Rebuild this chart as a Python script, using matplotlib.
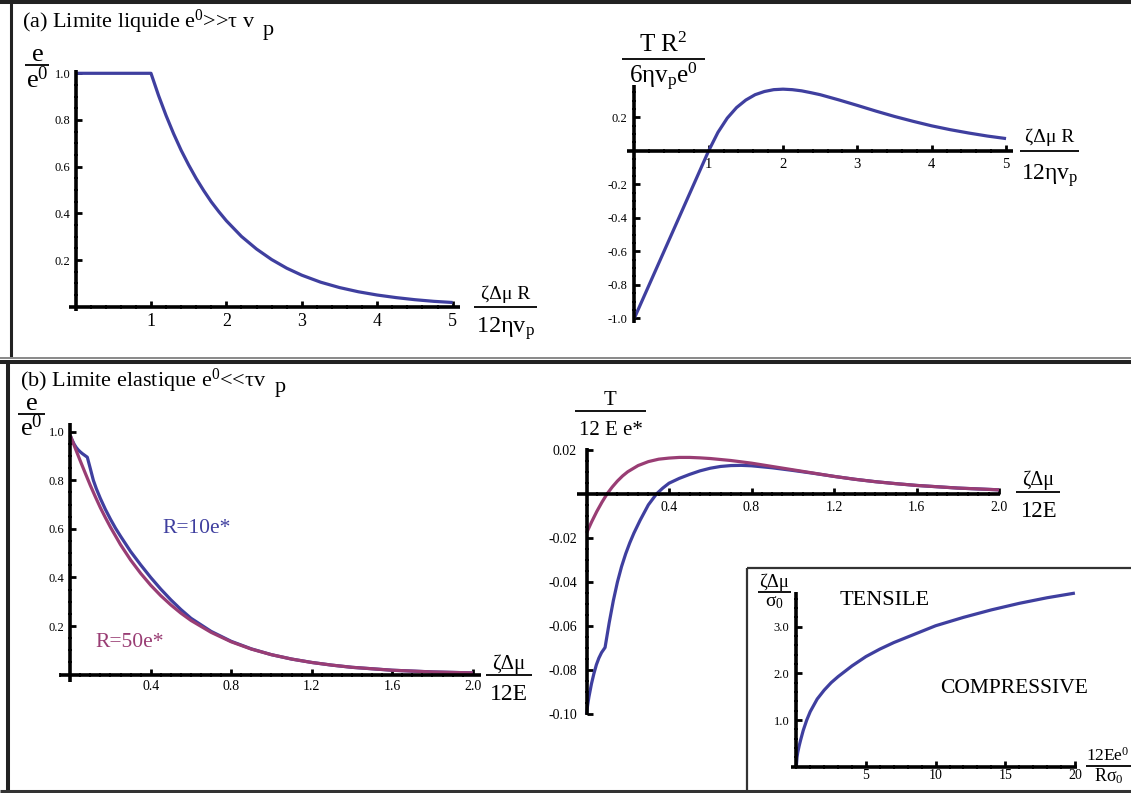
import matplotlib
matplotlib.use('Agg')
import matplotlib.pyplot as plt
from matplotlib.lines import Line2D
from matplotlib.patches import Rectangle
from matplotlib.transforms import Affine2D
from matplotlib.ticker import FixedLocator, MultipleLocator, FormatStrFormatter

plt.rcParams['font.family'] = ['Liberation Serif', 'DejaVu Serif']
plt.rcParams['mathtext.default'] = 'regular'
plt.rcParams['axes.unicode_minus'] = False

W, H = 1131, 793
BLUE = '#3f3f9f'
MAGENTA = '#993d74'

# ---------------- data ----------------
# (a) liquid limit, left: e/e0 vs zeta*dmu*R/(12 eta vp)
a_left_x = [0, 1, 1.1, 1.2, 1.3, 1.4, 1.5, 1.6, 1.7, 1.8, 1.9, 2.0, 2.2, 2.4,
            2.6, 2.8, 3.0, 3.25, 3.5, 3.75, 4, 4.25, 4.5, 4.75, 5]
a_left_y = [1, 1, 0.905, 0.819, 0.741, 0.670, 0.607, 0.549, 0.497, 0.449,
            0.407, 0.368, 0.301, 0.247, 0.202, 0.165, 0.135, 0.105, 0.082,
            0.064, 0.050, 0.039, 0.030, 0.023, 0.018]

# (a) liquid limit, right: T R^2/(6 eta vp e0)
a_right_x = [0, 0.25, 0.5, 0.75, 1, 1.125, 1.25, 1.375, 1.5, 1.625, 1.75,
             1.875, 2, 2.125, 2.25, 2.375, 2.5, 2.75, 3, 3.25, 3.5, 3.75, 4,
             4.25, 4.5, 4.75, 5]
a_right_y = [-1, -0.75, -0.5, -0.25, 0, 0.110, 0.195, 0.258, 0.303, 0.335,
             0.354, 0.365, 0.368, 0.365, 0.358, 0.347, 0.335, 0.304, 0.271,
             0.237, 0.205, 0.176, 0.149, 0.126, 0.106, 0.088, 0.073]

# (b) elastic limit, left: e/e0
b_left_blue_x = [0, 0.01, 0.02, 0.03, 0.04, 0.05, 0.06, 0.07, 0.085, 0.1,
                 0.115, 0.13, 0.15, 0.175, 0.2, 0.225, 0.25, 0.3, 0.35, 0.4,
                 0.45, 0.5, 0.55, 0.6, 0.7, 0.8, 0.9, 1.0, 1.1, 1.2, 1.3, 1.4,
                 1.6, 1.8, 2.0]
b_left_blue_y = [0.985, 0.965, 0.948, 0.935, 0.925, 0.917, 0.910, 0.904,
                 0.895, 0.848, 0.800, 0.765, 0.725, 0.680, 0.640, 0.603,
                 0.570, 0.507, 0.452, 0.400, 0.352, 0.308, 0.268, 0.232,
                 0.178, 0.137, 0.106, 0.082, 0.064, 0.050, 0.039, 0.030,
                 0.018, 0.011, 0.007]
b_left_mag_x = [0, 0.025, 0.05, 0.075, 0.1, 0.125, 0.15, 0.175, 0.2, 0.25,
                0.3, 0.35, 0.4, 0.45, 0.5, 0.55, 0.6, 0.7, 0.8, 0.9, 1.0, 1.1,
                1.2, 1.3, 1.4, 1.6, 1.8, 2.0]
b_left_mag_y = [0.985, 0.932, 0.880, 0.829, 0.779, 0.732, 0.687, 0.646, 0.607,
                0.535, 0.472, 0.417, 0.368, 0.325, 0.287, 0.253, 0.223, 0.174,
                0.135, 0.105, 0.082, 0.064, 0.050, 0.039, 0.030, 0.018, 0.011,
                0.007]

# (b) elastic limit, middle: T/(12 E e*)
b_mid_blue_x = [0, 0.006, 0.012, 0.024, 0.036, 0.048, 0.06, 0.073, 0.09, 0.11,
                0.13, 0.15, 0.17, 0.19, 0.21, 0.23, 0.26, 0.30, 0.34, 0.37,
                0.40, 0.45, 0.50, 0.55, 0.60, 0.65, 0.70, 0.75, 0.80, 0.9, 1.0,
                1.1, 1.2, 1.3, 1.4, 1.5, 1.6, 1.8, 2.0]
b_mid_blue_y = [-0.100, -0.0955, -0.0920, -0.0862, -0.0815, -0.0775, -0.0745,
                -0.0720, -0.0697, -0.0585, -0.0485, -0.0400, -0.0330, -0.0272,
                -0.0222, -0.0178, -0.0120, -0.0050, 0.0, 0.0026, 0.0048,
                0.0070, 0.0088, 0.0104, 0.0116, 0.0124, 0.0128, 0.0129, 0.0127,
                0.0118, 0.0106, 0.0093, 0.0079, 0.0066, 0.0055, 0.0046, 0.0038,
                0.0026, 0.0018]
b_mid_mag_x = [0, 0.025, 0.05, 0.075, 0.1, 0.125, 0.15, 0.175, 0.2, 0.25, 0.3,
               0.35, 0.4, 0.45, 0.5, 0.55, 0.6, 0.7, 0.8, 0.9, 1.0, 1.1, 1.2,
               1.3, 1.4, 1.5, 1.6, 1.8, 2.0]
b_mid_mag_y = [-0.0178, -0.0127, -0.0080, -0.0038, 0.0, 0.0031, 0.0058,
               0.0081, 0.0100, 0.0128, 0.0146, 0.0157, 0.0162, 0.0165, 0.0165,
               0.0163, 0.0160, 0.0151, 0.0139, 0.0124, 0.0109, 0.0094, 0.0079,
               0.0066, 0.0055, 0.0046, 0.0038, 0.0026, 0.0018]

# inset: zeta*dmu/sigma0 vs 12 E e0/(R sigma0)
inset_x = [0, 0.05, 0.1, 0.2, 0.3, 0.5, 0.75, 1, 1.5, 2, 2.5, 3, 4, 5, 6, 7,
           8, 9, 10, 12, 14, 16, 18, 20]
inset_y = [0, 0.2, 0.3, 0.44, 0.56, 0.78, 1.0, 1.18, 1.45, 1.64, 1.80, 1.93,
           2.16, 2.36, 2.52, 2.66, 2.78, 2.90, 3.02, 3.2, 3.36, 3.5, 3.62,
           3.72]

# tick values
a_left_xticks = [1, 2, 3, 4, 5]
a_left_yticks = [0.2, 0.4, 0.6, 0.8, 1.0]
a_right_xticks = [1, 2, 3, 4, 5]
a_right_yticks = [-1.0, -0.8, -0.6, -0.4, -0.2, 0.2]
b_left_xticks = [0.4, 0.8, 1.2, 1.6, 2.0]
b_left_yticks = [0.2, 0.4, 0.6, 0.8, 1.0]
b_mid_xticks = [0.4, 0.8, 1.2, 1.6, 2.0]
b_mid_yticks = [-0.10, -0.08, -0.06, -0.04, -0.02, 0.02]
inset_xticks = [5, 10, 15, 20]
inset_yticks = [1.0, 2.0, 3.0]

# ---------------- figure ----------------
fig = plt.figure(figsize=(W / 100, H / 100), dpi=100)
PX = Affine2D().scale(1 / W, -1 / H).translate(0, 1) + fig.transFigure


def hline(x0, x1, y, lw, color='black', z=5):
    fig.add_artist(Line2D([x0, x1], [y, y], transform=PX, lw=lw, color=color,
                          zorder=z, solid_capstyle='butt'))


def vline(x, y0, y1, lw, color='black', z=5):
    fig.add_artist(Line2D([x, x], [y0, y1], transform=PX, lw=lw, color=color,
                          zorder=z, solid_capstyle='butt'))


def txt(x, y, s, fs, ha='left', va='baseline', color='black'):
    fig.text(x, y, s, transform=PX, fontsize=fs, ha=ha, va=va, color=color)


def frac(xc, ybar, w, num, den, fs_num, fs_den, ynum, yden, lw=1.3):
    hline(xc - w / 2, xc + w / 2, ybar, lw)
    txt(xc, ynum, num, fs_num, ha='center')
    txt(xc, yden, den, fs_den, ha='center')


def place_axes(xlim, ylim, x0, xs, y0, ys):
    left = x0 + xs * xlim[0]
    right = x0 + xs * xlim[1]
    top = y0 - ys * ylim[1]
    bottom = y0 - ys * ylim[0]
    ax = fig.add_axes([left / W, 1 - bottom / H, (right - left) / W,
                       (bottom - top) / H])
    ax.set_xlim(*xlim)
    ax.set_ylim(*ylim)
    return ax


def style(ax, xmaj, xmin, ymaj, ymin, xfmt, yfmt, fsx, fsy, padx, pady):
    ax.patch.set_visible(False)
    for s in ('top', 'right'):
        ax.spines[s].set_visible(False)
    for s in ('left', 'bottom'):
        ax.spines[s].set_position(('data', 0))
        ax.spines[s].set_linewidth(2.6)
        ax.spines[s].set_capstyle('butt')
    ax.xaxis.set_major_locator(FixedLocator(xmaj))
    ax.xaxis.set_minor_locator(MultipleLocator(xmin))
    ax.yaxis.set_major_locator(FixedLocator(ymaj))
    ax.yaxis.set_minor_locator(MultipleLocator(ymin))
    ax.xaxis.set_major_formatter(FormatStrFormatter(xfmt))
    ax.yaxis.set_major_formatter(FormatStrFormatter(yfmt))
    ax.tick_params(which='major', direction='in', length=4.5, width=2.0)
    ax.tick_params(which='minor', direction='inout', length=3.2, width=1.3)
    ax.tick_params(axis='x', which='major', labelsize=fsx, pad=padx)
    ax.tick_params(axis='y', which='major', labelsize=fsy, pad=pady)


LW = 2.3


def curve(ax, x, y, color):
    ax.plot(x, y, color=color, lw=LW, clip_on=False, solid_capstyle='butt',
            solid_joinstyle='round')


# (a) left
axA1 = place_axes((-0.09, 5.1), (-0.02, 1.016), 75.6, 75.4, 306.7, 233.4)
style(axA1, a_left_xticks, 0.2, a_left_yticks, 0.05, '%d', '%.1f', 13, 9, 4.5, 3.5)
curve(axA1, a_left_x, a_left_y, BLUE)

# (a) right
axA2 = place_axes((-0.1, 5.1), (-1.03, 0.39), 634.3, 74.35, 150.8, 167.5)
style(axA2, a_right_xticks, 0.2, a_right_yticks, 0.05, '%d', '%.1f', 10.5, 9, 5, 5)
curve(axA2, a_right_x, a_right_y, BLUE)

# (b) left
axB1 = place_axes((-0.05, 2.04), (-0.03, 1.035), 70.2, 201.25, 674.6, 242.9)
style(axB1, b_left_xticks, 0.05, b_left_yticks, 0.05, '%.1f', '%.1f', 10, 9, 4, 4)
curve(axB1, b_left_blue_x, b_left_blue_y, BLUE)
curve(axB1, b_left_mag_x, b_left_mag_y, MAGENTA)

# (b) middle
axB2 = place_axes((-0.045, 2.005), (-0.1005, 0.0206), 586.5, 206.25, 493.8, 2205)
style(axB2, b_mid_xticks, 0.05, b_mid_yticks, 0.005, '%.1f', '%.2f', 10, 10, 5, 7)
curve(axB2, b_mid_blue_x, b_mid_blue_y, BLUE)
curve(axB2, b_mid_mag_x, b_mid_mag_y, MAGENTA)

# inset
axIn = place_axes((-0.35, 20.15), (-0.035, 3.75), 796.3, 13.93, 766.7, 46.67)
style(axIn, inset_xticks, 1, inset_yticks, 0.2, '%d', '%.1f', 10, 9, 2, 5)
curve(axIn, inset_x, inset_y, BLUE)

# ---------------- frames ----------------
hline(0, W, 2, 2.9, '#222222')
vline(10.5, 0, 358, 2.2, '#222222')
hline(0, W, 358, 1.4, '#888888')
hline(0, W, 362, 2.9, '#222222')
vline(8, 360, H, 2.9, '#222222')
hline(0, W, 790.5, 2.2, '#333333')
fig.add_artist(Rectangle((747.3, 568.3), 420, 230, transform=PX, fill=False,
                         lw=1.6, edgecolor='#333333', zorder=1))

# ---------------- texts ----------------
txt(22, 28, "(a) Limite liquide e$^0$>>τ v", 16)
txt(263, 35, "p", 16)
txt(20, 387, "(b) Limite elastique e$^0$<<τv", 16)
txt(275, 392, "p", 16)

frac(37, 65, 24, "$e$", "e$^0$", 19, 19, 61, 88)
frac(505.5, 306.5, 63, "ζΔμ R", "12ηv$_p$", 14, 17.5, 299, 333)
frac(663, 59.3, 83, "T R$^2$", "6ηv$_p$e$^0$", 18, 18, 52, 83)
frac(1049.7, 151, 59, "ζΔμ R", "12ηv$_p$", 14, 17, 141.5, 180)

frac(31.5, 413.8, 27, "$e$", "e$^0$", 19, 19, 410.5, 435.5)
frac(508.5, 675, 46, "ζΔμ", "12E", 15, 17, 669, 700)
frac(610.5, 410.7, 71, "T", "12 E e*", 15, 15, 405, 435)
frac(1038, 491.7, 44, "ζΔμ", "12E", 14.5, 16.5, 485, 516.7)

frac(774, 591.7, 33, "ζΔμ", "σ$_0$", 13.5, 14, 586.7, 606.7)
hline(1086, 1135, 765.5, 1.3)
txt(1086, 761, "12Ee$^0$", 12.5)
txt(1094, 781, "Rσ$_0$", 13)

txt(162, 533, "R=10e*", 15.5, color=BLUE)
txt(95, 647, "R=50e*", 15.5, color=MAGENTA)
txt(840, 605, "TENSILE", 16)
txt(940, 693, "COMPRESSIVE", 15.5)

fig.savefig('out.png', dpi=100)
